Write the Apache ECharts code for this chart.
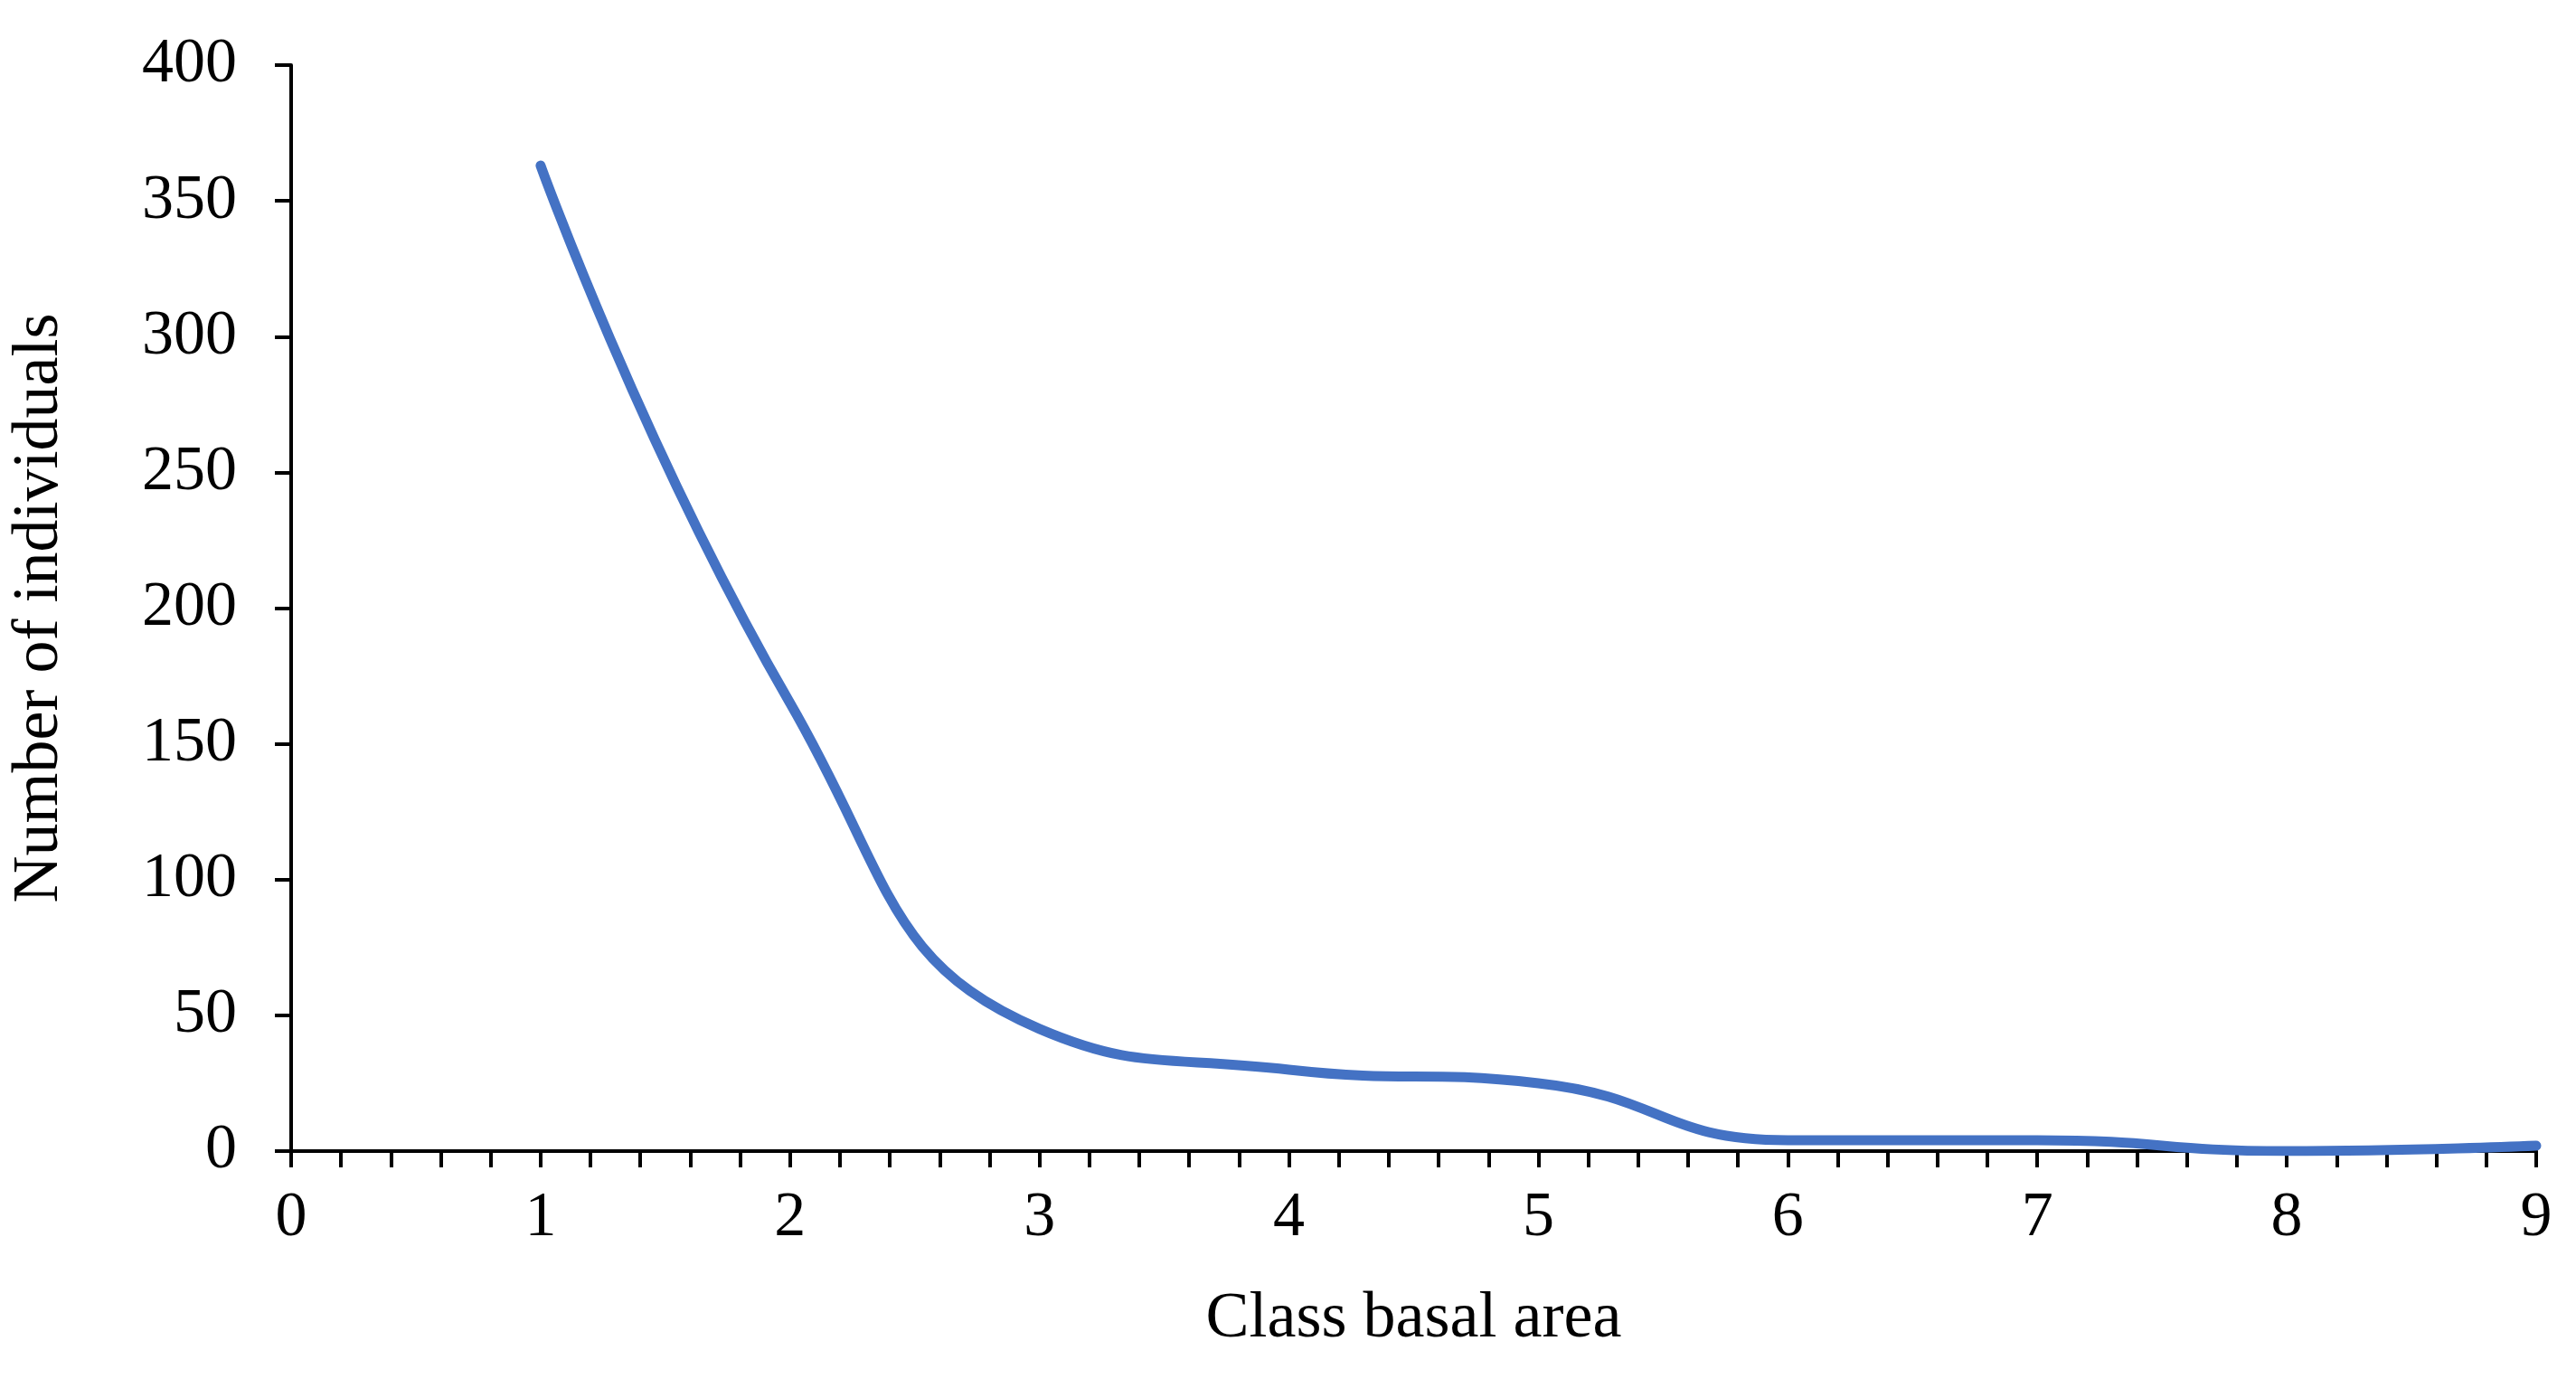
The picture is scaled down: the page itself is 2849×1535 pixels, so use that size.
<!DOCTYPE html>
<html>
<head>
<meta charset="utf-8">
<style>
    html, body { margin: 0; padding: 0; background: #fff; }
    #main { width: 2849px; height: 1535px; }
</style>
<script src="https://cdn.jsdelivr.net/npm/echarts@6/dist/echarts.min.js"></script>
</head>
<body>
<div id="main"></div>
<script>
    // data
    var classes = [1, 2, 3, 4, 5, 6, 7, 8, 9];
    var individuals = [363, 165, 45, 30, 25, 4, 4, 0, 2];

    var font = 'Liberation Serif, Times New Roman, serif';
    var axisLine = { lineStyle: { color: '#000', width: 4 } };

    var option = {
        animation: false,
        grid: { left: 306, right: 44, top: 72, bottom: 262 },
        xAxis: {
            type: 'value',
            min: 0, max: 9, interval: 1,
            name: 'Class basal area',
            nameLocation: 'middle',
            nameGap: 150,
            nameTextStyle: { fontFamily: font, fontSize: 72, color: '#000' },
            axisLine: axisLine,
            axisTick: { inside: false, length: 18, lineStyle: { color: '#000', width: 4 } },
            minorTick: { show: true, splitNumber: 5, length: 18, lineStyle: { color: '#000', width: 4 } },
            splitLine: { show: false },
            axisLabel: { fontFamily: font, fontSize: 70, color: '#000', margin: 40 }
        },
        yAxis: {
            type: 'value',
            min: 0, max: 400, interval: 50,
            name: 'Number of individuals',
            nameLocation: 'middle',
            nameGap: 242,
            nameTextStyle: { fontFamily: font, fontSize: 72, color: '#000' },
            axisLine: Object.assign({ show: true }, axisLine),
            axisTick: { show: true, length: 18, lineStyle: { color: '#000', width: 4 } },
            splitLine: { show: false },
            axisLabel: { fontFamily: font, fontSize: 70, color: '#000', margin: 60 }
        },
        series: [{
            type: 'line',
            smooth: 0.5,
            symbol: 'none',
            lineStyle: { color: '#4472C4', width: 11, cap: 'round' },
            data: classes.map(function (c, i) { return [c, individuals[i]]; })
        }]
    };

    var myChart = echarts.init(document.getElementById('main'));
    myChart.setOption(option);
</script>
</body>
</html>
